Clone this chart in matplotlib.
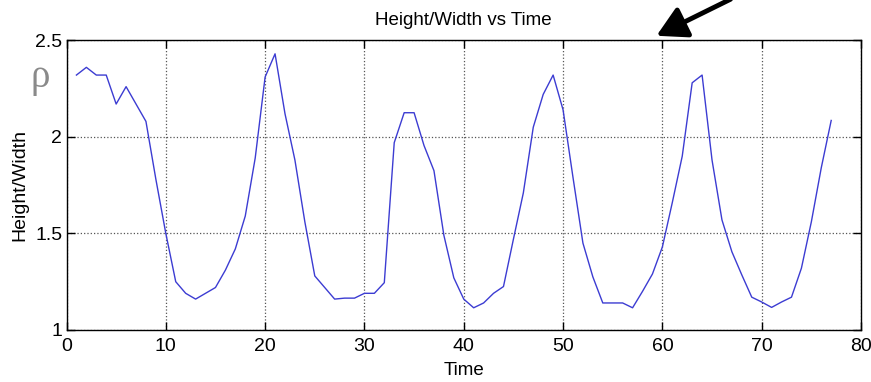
import matplotlib.pyplot as plt

# Height/Width ratio sampled at each time step
time = list(range(1, 78))
ratio = [2.32, 2.36, 2.32, 2.32, 2.17, 2.26, 2.17, 2.08, 1.78, 1.50,
         1.25, 1.19, 1.16, 1.19, 1.22, 1.31, 1.42, 1.59, 1.89, 2.31,
         2.43, 2.12, 1.88, 1.56, 1.28, 1.22, 1.16, 1.165, 1.165, 1.19,
         1.19, 1.245, 1.97, 2.125, 2.125, 1.955, 1.825, 1.49, 1.27, 1.16,
         1.115, 1.14, 1.19, 1.225, 1.47, 1.71, 2.05, 2.22, 2.32, 2.14,
         1.79, 1.45, 1.275, 1.14, 1.14, 1.14, 1.115, 1.20, 1.29, 1.43,
         1.66, 1.90, 2.28, 2.32, 1.88, 1.57, 1.405, 1.285, 1.17, 1.145,
         1.117, 1.145, 1.17, 1.32, 1.56, 1.84, 2.085]

xticks = [0, 10, 20, 30, 40, 50, 60, 70, 80]
yticks = [1, 1.5, 2, 2.5]
ytick_labels = ['1', '1.5', '2', '2.5']

plt.rcParams['font.family'] = ['Liberation Sans', 'DejaVu Sans']

W, H = 871, 382
fig = plt.figure(figsize=(W / 100, H / 100), dpi=100)
ax = fig.add_axes([66.5 / W, 1 - 330 / H, (861 - 66.5) / W, (330 - 40.3) / H])

ax.plot(time, ratio, color='#3c3cd2', linewidth=1.0)

ax.set_xlim(0, 80)
ax.set_ylim(1, 2.5)
ax.set_xticks(xticks)
ax.set_yticks(yticks)
ax.set_yticklabels(ytick_labels)
ax.tick_params(direction='in', length=6, width=1, labelsize=14,
               top=True, right=True, colors='black')
ax.tick_params(axis='x', pad=6)
ax.tick_params(axis='y', pad=3)
ax.grid(True, linestyle=':', color='#555555', linewidth=0.9)
for s in ax.spines.values():
    s.set_linewidth(1.0)
    s.set_color('black')

ax.set_title('Height/Width vs Time', fontsize=13.5, pad=11)
ax.set_xlabel('Time', fontsize=13.5, labelpad=5)
ax.set_ylabel('Height/Width', fontsize=14, labelpad=5)

# gray rho symbol next to the y label
fig.text(40 / W, 1 - 78 / H, '\u03c1', fontsize=28, color='#8a8a8a',
         family=['Liberation Serif', 'DejaVu Serif'], ha='center', va='center')

# black arrow pointing at the top of the axes
fig.patches.append(plt.matplotlib.patches.FancyArrowPatch(
    (733 / W, 1 + 2 / H), (654 / W, 1 - 37 / H), transform=fig.transFigure,
    arrowstyle='-|>,head_length=9,head_width=5', linewidth=3.5,
    color='black', mutation_scale=2))

fig.savefig('out.png', dpi=100)
